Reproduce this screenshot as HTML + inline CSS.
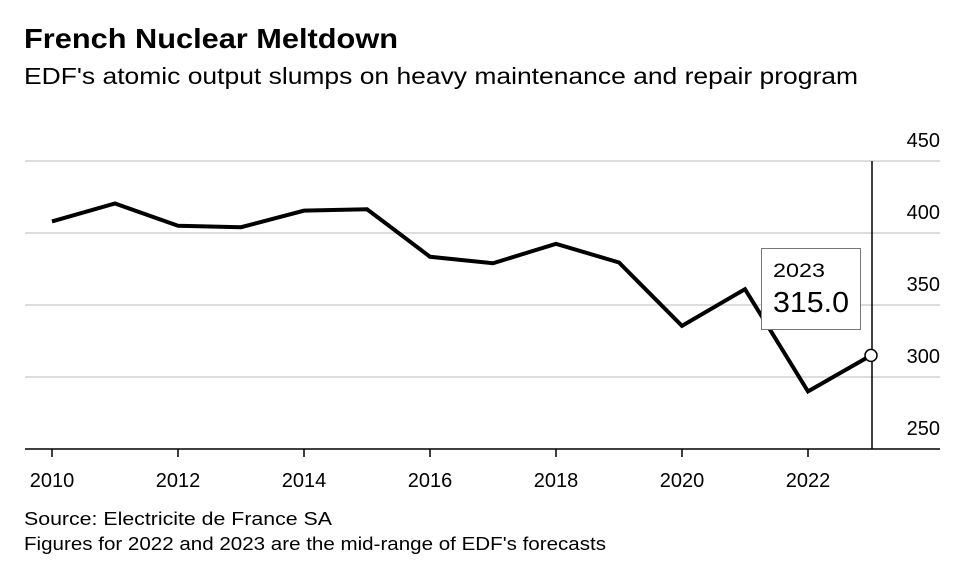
<!DOCTYPE html>
<html><head><meta charset="utf-8"><style>
body{margin:0;background:#fff;font-family:"Liberation Sans",Arial,sans-serif;}
svg text{font-family:"Liberation Sans",Arial,sans-serif;}
</style></head><body>
<svg width="959" height="567">
<text x="24" y="48" font-size="28" font-weight="bold" fill="#000" textLength="374" lengthAdjust="spacingAndGlyphs">French Nuclear Meltdown</text>
<text x="24" y="84" font-size="23" fill="#000" textLength="834" lengthAdjust="spacingAndGlyphs">EDF's atomic output slumps on heavy maintenance and repair program</text>
<g id="grid"></g>
<g id="xaxis"></g>
<path id="line" fill="none" stroke="#000" stroke-width="4" stroke-linejoin="miter"/>
<line x1="872" y1="161" x2="872" y2="449" stroke="#000" stroke-width="1.5"/>
<circle id="pt" r="6" fill="#fff" stroke="#000" stroke-width="1.5"/>
<g>
<rect x="761.5" y="248.5" width="99" height="81" fill="#fff" stroke="#777" stroke-width="1"/>
<text x="773" y="277" font-size="19" fill="#000" textLength="52" lengthAdjust="spacingAndGlyphs">2023</text>
<text x="773" y="312" font-size="29" fill="#000" textLength="76" lengthAdjust="spacingAndGlyphs">315.0</text>
</g>
<text x="24" y="525" font-size="18" fill="#000" textLength="308" lengthAdjust="spacingAndGlyphs">Source: Electricite de France SA</text>
<text x="24" y="550" font-size="18" fill="#000" textLength="582" lengthAdjust="spacingAndGlyphs">Figures for 2022 and 2023 are the mid-range of EDF's forecasts</text>
</svg>
<script>
const years=[2010,2011,2012,2013,2014,2015,2016,2017,2018,2019,2020,2021,2022,2023];
const output=[408,420.5,405,404,415.5,416.5,383.5,379,392.5,379.5,335.5,361,290,315];
const yTicks=[250,300,350,400,450];
const xTicks=[2010,2012,2014,2016,2018,2020,2022];
const X=y=>52+(y-2010)*63;
const Y=v=>449-(v-250)*1.44;
const ns="http://www.w3.org/2000/svg";
const grid=document.getElementById('grid');
yTicks.forEach(t=>{
 if(t>250){const l=document.createElementNS(ns,'line');
 l.setAttribute('x1',25);l.setAttribute('x2',940);l.setAttribute('y1',Y(t));l.setAttribute('y2',Y(t));
 l.setAttribute('stroke','#ddd');l.setAttribute('stroke-width','2');
 
 
 grid.appendChild(l);}
 const tx=document.createElementNS(ns,'text');
 tx.setAttribute('x',940);tx.setAttribute('y',Y(t)-14);tx.setAttribute('text-anchor','end');
 tx.setAttribute('font-size','20');tx.textContent=t;
 
 
 grid.appendChild(tx);
});
const xa=document.getElementById('xaxis');
const base=document.createElementNS(ns,'line');
base.setAttribute('x1',25);base.setAttribute('x2',940);base.setAttribute('y1',449);base.setAttribute('y2',449);
base.setAttribute('stroke','#000');base.setAttribute('stroke-width','1.5');


xa.appendChild(base);
xTicks.forEach(t=>{
 const l=document.createElementNS(ns,'line');
 l.setAttribute('x1',X(t));l.setAttribute('x2',X(t));l.setAttribute('y1',449);l.setAttribute('y2',457);
 l.setAttribute('stroke','#000');l.setAttribute('stroke-width','1.5');
 
 
 xa.appendChild(l);
 const tx=document.createElementNS(ns,'text');
 tx.setAttribute('x',X(t));tx.setAttribute('y',487);tx.setAttribute('text-anchor','middle');
 tx.setAttribute('font-size','20');tx.textContent=t;
 
 
 xa.appendChild(tx);
});
document.getElementById('line').setAttribute('d',years.map((y,i)=>(i?'L':'M')+X(y)+','+Y(output[i])).join(''));
const pt=document.getElementById('pt');
pt.setAttribute('cx',X(years[years.length-1]));pt.setAttribute('cy',Y(output[output.length-1]));
</script>
</body></html>
